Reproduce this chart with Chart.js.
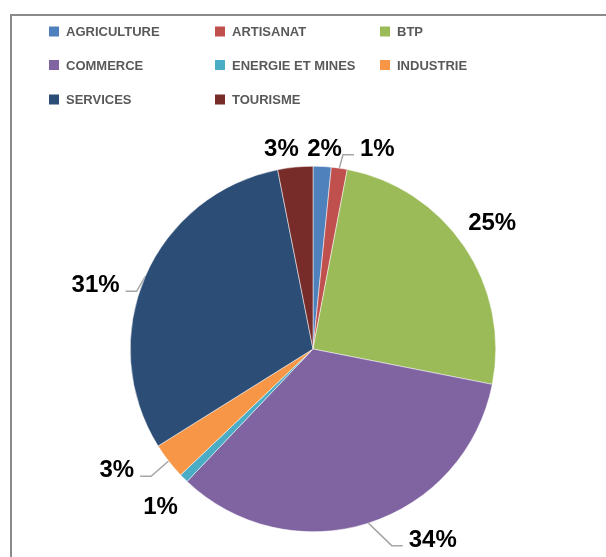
<!DOCTYPE html>
<html>
<head>
<meta charset="utf-8">
<script src="https://cdn.jsdelivr.net/npm/chart.js@4/dist/chart.umd.min.js"></script>
<style>
  html, body { margin: 0; padding: 0; background: #fff; }
  #pie { display: block; }
</style>
</head>
<body>
<canvas id="pie" width="606" height="557"></canvas>
<script>
// Répartition par secteur (% du total)
const SECTEURS = ["AGRICULTURE", "ARTISANAT", "BTP", "COMMERCE", "ENERGIE ET MINES", "INDUSTRIE", "SERVICES", "TOURISME"];
const PARTS = [1.6, 1.4, 25.1, 34.0, 0.8, 3.2, 30.8, 3.1];
const COULEURS = ["#4F81BD", "#C0504D", "#9BBB59", "#8064A2", "#4BACC6", "#F79646", "#2C4D75", "#772C2A"];

// placement des étiquettes : décalage angulaire (deg), distance (x rayon), ligne de repère
const LABEL_SHIFT = [0.4, 9.4, -1.4, -14.7, -0.7, 6.4, -6.7, -3.3];
const LABEL_DIST = [1.104, 1.159, 1.203, 1.225, 1.195, 1.258, 1.242, 1.118];
const LEADER = [false, true, false, true, false, true, true, false];

const LABEL_FONT = "bold 24px 'Liberation Sans', Arial, sans-serif";
const LEGEND_FONT = "bold 13px 'Liberation Sans', Arial, sans-serif";

/* ── cadre ─────────────────────────────────────────────*/
const framePlugin = {
  id: "frame",
  beforeDraw(chart) {
    const ctx = chart.ctx;
    ctx.save();
    ctx.strokeStyle = "#8a8a8a";
    ctx.lineWidth = 2;
    ctx.strokeRect(11, 15, 800, 800);
    ctx.restore();
  }
};

/* ── légende en grille 3 colonnes ──────────────────────*/
const legendPlugin = {
  id: "gridLegend",
  afterDraw(chart) {
    const ctx = chart.ctx;
    const colX = [49, 215, 380];
    const rowY = [31.5, 65, 99.5];
    ctx.save();
    ctx.font = LEGEND_FONT;
    ctx.textBaseline = "alphabetic";
    SECTEURS.forEach((name, i) => {
      const x = colX[i % 3], y = rowY[Math.floor(i / 3)];
      ctx.fillStyle = COULEURS[i];
      ctx.fillRect(x, y - 5, 10, 10);
      ctx.fillStyle = "#595959";
      ctx.fillText(name, x + 17, y + 4.7);
    });
    ctx.restore();
  }
};

/* ── pourcentages + lignes de repère ───────────────────*/
function labelGeometry(chart, i) {
  const arc = chart.getDatasetMeta(0).data[i];
  const total = PARTS.reduce((a, b) => a + b, 0);
  const mid = (arc.startAngle + arc.endAngle) / 2;
  const a = mid + LABEL_SHIFT[i] * Math.PI / 180;
  const d = arc.outerRadius * LABEL_DIST[i];
  const ctx = chart.ctx;
  ctx.font = LABEL_FONT;
  const text = Math.round(PARTS[i] / total * 100) + "%";
  const w = ctx.measureText(text).width;
  return {
    text, w, arc, mid,
    cx: arc.x + Math.cos(a) * d,
    cy: arc.y + Math.sin(a) * d
  };
}

const leaderPlugin = {
  id: "leaders",
  beforeDatasetsDraw(chart) {
    const ctx = chart.ctx;
    ctx.save();
    ctx.strokeStyle = "#a6a6a6";
    ctx.lineWidth = 1.5;
    PARTS.forEach((v, i) => {
      if (!LEADER[i]) return;
      const g = labelGeometry(chart, i);
      const px = g.arc.x + Math.cos(g.mid) * g.arc.outerRadius;
      const py = g.arc.y + Math.sin(g.mid) * g.arc.outerRadius;
      const right = g.cx > g.arc.x;
      const y = g.cy + 7.5;
      const endX = right ? g.cx - g.w / 2 - 6 : g.cx + g.w / 2 + 6;
      const elbowX = right ? endX - 11 : endX + 11;
      ctx.beginPath();
      ctx.moveTo(px, py);
      ctx.lineTo(elbowX, y);
      ctx.lineTo(endX, y);
      ctx.stroke();
    });
    ctx.restore();
  },
  afterDatasetsDraw(chart) {
    const ctx = chart.ctx;
    ctx.save();
    PARTS.forEach((v, i) => {
      const g = labelGeometry(chart, i);
      ctx.font = LABEL_FONT;
      ctx.fillStyle = "#000";
      ctx.textAlign = "center";
      ctx.textBaseline = "alphabetic";
      ctx.fillText(g.text, g.cx, g.cy + 8.6);
    });
    ctx.restore();
  }
};

new Chart(document.getElementById("pie"), {
  type: "pie",
  data: {
    labels: SECTEURS,
    datasets: [{
      data: PARTS,
      backgroundColor: COULEURS,
      borderColor: "#ffffff",
      borderWidth: 0.5
    }]
  },
  options: {
    responsive: false,
    animation: false,
    layout: { padding: { left: 130, right: 110, top: 166, bottom: 25 } },
    plugins: {
      legend: { display: false },
      tooltip: { enabled: false }
    }
  },
  plugins: [framePlugin, legendPlugin, leaderPlugin]
});
</script>
</body>
</html>
